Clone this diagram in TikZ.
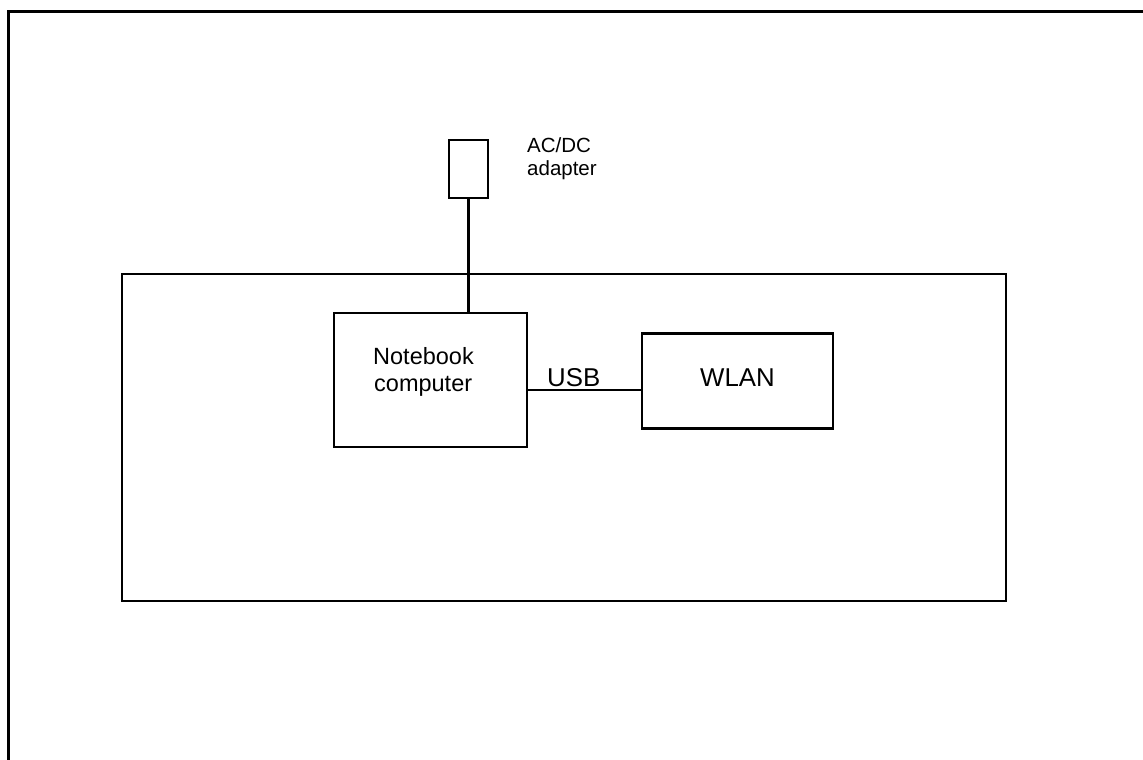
\documentclass[tikz,border=0pt]{standalone}
\usepackage{fontspec}
\setmainfont{Liberation Sans}
\begin{document}
\begin{tikzpicture}[x=1pt,y=-1pt,
  box/.style={draw,line width=2.3pt,inner sep=0pt,rectangle},
  txt/.style={inner sep=0pt,anchor=base west},
  wire/.style={line width=2.3pt}]
\useasboundingbox (0,0) rectangle (1143,760);
% outer frame (cut off at the right and bottom)
\draw[line width=3.5pt] (1143,11.5) -- (8.5,11.5) -- (8.5,760);
% system box
\node[box,minimum width=884pt,minimum height=327pt] (sys) at (564,437.5) {};
% adapter
\node[box,minimum width=39pt,minimum height=58pt] (adapter) at (468.5,169) {};
\node[txt,font=\fontsize{20.5}{22.7}\selectfont] (ac1) at (527,152.3) {AC/DC};
\node[txt,font=\fontsize{20.5}{22.7}\selectfont] (ac2) at (527,175) {adapter};
% notebook
\node[box,minimum width=193pt,minimum height=134pt] (nb) at (430.5,380) {};
\node[txt,font=\fontsize{23.5}{27}\selectfont] (nb1) at (373,364) {Notebook};
\node[txt,font=\fontsize{23.5}{27}\selectfont] (nb2) at (374,391.7) {computer};
% WLAN
\node[box,minimum width=191pt,minimum height=95pt] (wlan) at (737.5,381) {};
\node[txt,font=\fontsize{25.8}{30}\selectfont] (wl) at (700,386.7) {WLAN};
% connectors
\draw[wire] (adapter.south) -- (nb.north -| adapter.south);
\draw[wire] ([yshift=-10pt]nb.east) -- ([yshift=-10pt]nb.east -| wlan.west);
\node[txt,font=\fontsize{25.8}{30}\selectfont] (usb) at (547,386.7) {USB};
\end{tikzpicture}
\end{document}
